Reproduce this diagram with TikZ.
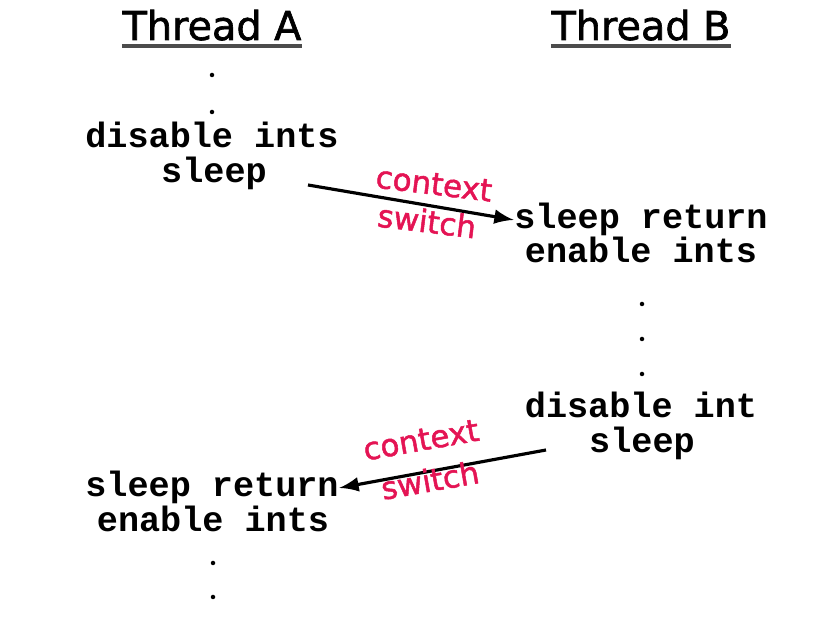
\documentclass[tikz,border=0pt]{standalone}
\usepackage{fontspec}
\newfontfamily\codefont{Liberation Mono}
\newfontfamily\handfont{DejaVu Sans}[BoldFont={DejaVu Sans}, BoldFeatures={FakeBold=1.6}]
\usetikzlibrary{calc}
\definecolor{switchred}{RGB}{228,20,84}
\tikzset{
  code/.style={font=\codefont\bfseries\fontsize{10}{12}\selectfont, inner sep=0pt, anchor=base},
  title/.style={font=\handfont\bfseries\fontsize{11.3}{13}\selectfont, inner sep=0pt, anchor=base},
  cs/.style={font=\handfont\bfseries\fontsize{8.8}{10}\selectfont, text=switchred, inner sep=0pt},
  dot/.style={circle, fill, inner sep=0pt, minimum size=0.045cm}
}
\begin{document}
\begin{tikzpicture}[>=latex, x=0.01cm, y=-0.01cm]
    \useasboundingbox (0,0) rectangle (830,622);
    % thread titles
    \node[title] (threadA) at (212,40) {Thread A};
    \node[title] (threadB) at (641,40) {Thread B};
    \draw[black!70, line width=0.9pt] ($(threadA.base west)+(0,6)$) -- ($(threadA.base east)+(0,6)$);
    \draw[black!70, line width=0.9pt] ($(threadB.base west)+(0,6)$) -- ($(threadB.base east)+(0,6)$);
    % thread A, first part
    \foreach \y [count=\i] in {75,112} \node[dot] (dotA\i) at (212,\y) {};
    \node[code] (disA) at (212,148) {disable ints};
    \node[code] (sleepA) at (214,183) {sleep};
    % thread B
    \node[code] (retB) at (641,229) {sleep return};
    \node[code] (enB) at (641,263) {enable ints};
    \foreach \y [count=\i] in {304,339,374} \node[dot] (dotB\i) at (642,\y) {};
    \node[code] (disB) at (641,418) {disable int};
    \node[code] (sleepB) at (642,453) {sleep};
    % thread A again
    \node[code] (retA) at (212,497) {sleep return};
    \node[code] (enA) at (213,532) {enable ints};
    \foreach \y [count=\i] in {563,597} \node[dot] (dotC\i) at (213,\y) {};
    % context switches
    \coordinate (fromA) at (308,185);
    \coordinate (fromB) at (546,450);
    \draw[->, line width=0.9pt] (fromA) -- (retB.west);
    \draw[->, line width=0.9pt] (fromB) -- (retA.east);
    \node[cs, rotate=-7] (ctxA) at (434,184) {context};
    \node[cs, rotate=-7] (swA) at (427,221) {switch};
    \node[cs, rotate=10] (ctxB) at (421,440) {context};
    \node[cs, rotate=10] (swB) at (430,480) {switch};
\end{tikzpicture}
\end{document}
